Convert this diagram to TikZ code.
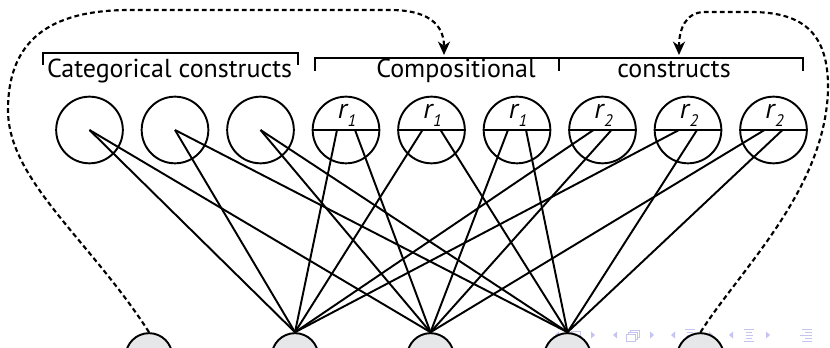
\documentclass[tikz,border=0pt]{standalone}
\usepackage{fontspec}
\setmainfont{PT Sans}
\usetikzlibrary{arrows.meta}
\definecolor{navblue}{RGB}{196,196,238}
\definecolor{unitgray}{RGB}{230,231,233}

\begin{document}
\begin{tikzpicture}[x=0.75pt,y=-0.75pt,line width=1.45pt,
	construct/.style={circle,draw,minimum size=50pt,inner sep=0pt},
	input/.style={circle,draw,fill=unitgray,minimum size=35pt,inner sep=0pt},
	heading/.style={inner sep=0pt,anchor=base,font=\fontsize{19.5}{22}\selectfont},
	rlabel/.style={inner sep=0pt,anchor=base,font=\fontsize{21}{22}\selectfont\itshape},
	feedback/.style={line width=1.6pt,dash pattern=on 3.6pt off 2.4pt,-{Stealth[length=10pt,width=9pt,inset=3pt]}},
	navsym/.style={navblue,line width=0.6pt}]
	\useasboundingbox (0,0) rectangle (830,348);
	\coordinate (comptip) at (444,55);
	\coordinate (constip) at (679,55);
	% Beamer navigation symbols, partly hidden by the picture
	\foreach \x in {557,615,673,731}
		\fill[navblue] (\x+2,331.5) -- (\x-2,335) -- (\x+2,338.5) -- cycle;
	\foreach \x in {593,652,711,768}
		\fill[navblue] (\x-2,331.5) -- (\x+2,335) -- (\x-2,338.5) -- cycle;
	\draw[navsym] (571,331) rectangle (580,339);
	\draw[navsym,fill=white] (630,330) rectangle (639,337);
	\draw[navsym,fill=white] (628,332) rectangle (637,339);
	\draw[navsym,fill=white] (626,334) rectangle (635,341);
	\foreach \x in {690,749} {
		\draw[navsym] (\x-5,329) -- (\x+5,329);
		\draw[navsym] (\x-3,332) -- (\x+3,332);
		\draw[navsym] (\x-3,335) -- (\x+4,335);
		\draw[navsym] (\x-3,338) -- (\x+3,338);
		\draw[navsym] (\x-5,341) -- (\x+5,341);
	}
	\draw[navsym] (802,329) -- (812,329);
	\draw[navsym] (805,332) -- (812,332);
	\draw[navsym] (800,335) -- (812,335);
	\draw[navsym] (805,338) -- (812,338);
	\draw[navsym] (802,341) -- (812,341);
	% Top row: categorical and compositional constructs
	\foreach \i in {1,...,9}
		\node[construct] (c\i) at ({89.5+85.5*(\i-1)},130) {};
	\foreach \i/\k in {4/1,5/1,6/1,7/2,8/2,9/2} {
		\draw (c\i.west) -- (c\i.east);
		\path (c\i.center) ++(-9,0) coordinate (c\i l) ++(18,0) coordinate (c\i r);
		\node[rlabel] (r\i) at ({90.5+85.5*(\i-1)},119) {r\kern0.5pt\raisebox{-6pt}{\fontsize{12.5}{12}\selectfont\k}};
	}
	% Bottom row
	\foreach \i/\x in {1/149,2/295,3/430.5,4/567.5,5/700.5}
		\node[input] (b\i) at (\x,356.5) {};
	% Connections
	\foreach \i/\a/\b in {1/2/3,2/2/4,3/3/4} {
		\draw (c\i.center) -- (b\a.north);
		\draw (c\i.center) -- (b\b.north);
	}
	\foreach \i/\a/\b in {4/2/3,5/2/4,6/3/4,7/2/3,8/2/4,9/3/4} {
		\draw (c\i l) -- (b\a.north);
		\draw (c\i r) -- (b\b.north);
	}
	% Brackets and their labels
	\draw (42.7,65) -- (42.7,52.7) -- (298,52.7) -- (298,65);
	\draw (315,70.7) -- (315,57.7) -- (803,57.7) -- (803,70.7);
	\draw (559,57.7) -- (559,70.7);
	\node[heading] (cat) at (169.5,78) {Categorical constructs};
	\node[heading] (comp) at (456,78) {Compositional};
	\node[heading] (cons) at (674,78) {constructs};
	% Dashed feedback arrows
	\draw[feedback] (b1.north) .. controls (90,240) and (8,180) .. (8,110)
		.. controls (8,40) and (50,10) .. (130,10) -- (390,10)
		.. controls (435,10) and (444,30) .. (comptip);
	\draw[feedback] (b5.north) .. controls (740,270) and (825,190) .. (828,90)
		.. controls (829,30) and (800,12) .. (750,12) -- (705,12)
		.. controls (685,12) and (679,30) .. (constip);
\end{tikzpicture}
\end{document}
